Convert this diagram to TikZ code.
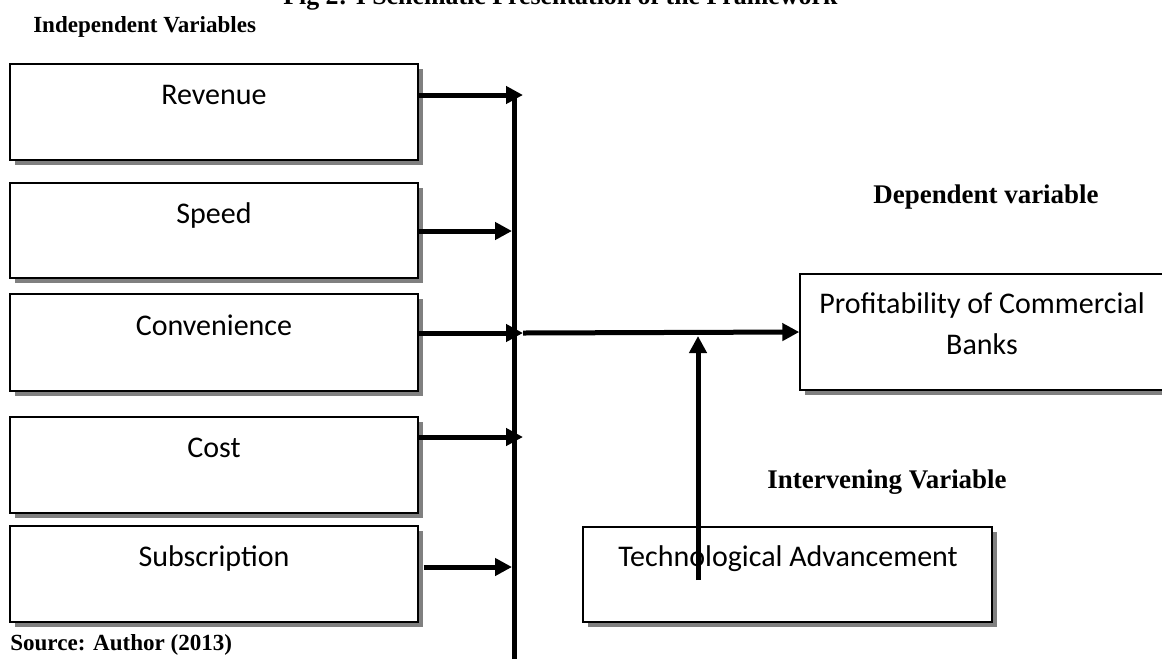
\documentclass[tikz,border=0pt]{standalone}
\usepackage{fontspec}
\setmainfont{Liberation Serif}
\newfontfamily\calfont{Carlito}
\usetikzlibrary{arrows.meta,shadows,calc}
\begin{document}
\begin{tikzpicture}[x=0.75pt,y=-0.75pt,
  varbox/.style={draw=black,line width=1.1pt,fill=white,rectangle,inner sep=0pt,
    drop shadow={shadow xshift=3.75pt,shadow yshift=-3.75pt,fill=black!50,opacity=1}},
  boxtext/.style={font=\calfont\fontsize{22.5pt}{27pt}\selectfont,anchor=base,inner sep=0pt},
  heading/.style={font=\bfseries\fontsize{17.3pt}{20pt}\selectfont,inner sep=0pt},
  bigheading/.style={font=\bfseries\fontsize{20.2pt}{24pt}\selectfont,inner sep=0pt},
  conn/.style={line width=3.75pt,-{Triangle[length=12.75pt,width=12.75pt]}},
  bus/.style={line width=3.75pt}]
\clip (0,0) rectangle (1162,658);
\useasboundingbox (0,0) rectangle (1162,658);
% title (cut off at top)
\node[font=\bfseries\fontsize{19.4pt}{23pt}\selectfont,inner sep=0pt,anchor=base west] (title) at (283,4) {Fig 2: I Schematic Presentation of the Framework};
\node[heading,anchor=base west] (indep) at (33,32) {Independent Variables};
\node[bigheading,anchor=base] (dep) at (986,203) {Dependent variable};
\node[bigheading,anchor=base] (interv) at (887,488) {Intervening Variable};
\node[heading,anchor=base west] (src) at (10,650) {Source: Author (2013)};
% left boxes
\node[varbox,minimum width=306pt,minimum height=72pt] (rev) at (214,112) {};
\node[varbox,minimum width=306pt,minimum height=71pt] (spd) at (214,230.5) {};
\node[varbox,minimum width=306pt,minimum height=72.5pt] (conv) at (214,342.5) {};
\node[varbox,minimum width=306pt,minimum height=72pt] (cost) at (214,465) {};
\node[varbox,minimum width=306pt,minimum height=72pt] (subs) at (214,574) {};
\node[boxtext] (revt) at (214,104) {Revenue};
\node[boxtext] (spdt) at (214,223) {Speed};
\node[boxtext] (convt) at (214,335) {Convenience};
\node[boxtext] (costt) at (214,457) {Cost};
\node[boxtext] (subst) at (214,566) {Subscription};
% right boxes
\node[varbox,minimum width=273.75pt,minimum height=87pt] (prof) at (982.5,332) {};
\node[boxtext] (proft1) at (982,313) {Profitability of Commercial};
\node[boxtext] (proft2) at (982,354) {Banks};
\node[varbox,minimum width=306.75pt,minimum height=71.25pt] (tech) at (787.5,574.5) {};
\node[boxtext] (techt) at (788,566) {Technological Advancement};
% bus coordinates
\coordinate (bustop) at (514,93);
\coordinate (busbot) at (514,665);
\coordinate (b1) at (523,95);
\coordinate (b2) at (512,231);
\coordinate (b3) at (523,333);
\coordinate (b4) at (523,437);
\coordinate (b5) at (512,567);
\coordinate (upstart) at (698,580);
\coordinate (j) at (698,336);
% connectors
\draw[bus] (bustop) -- (busbot);
\draw[conn] (rev.east |- b1) -- (b1);
\draw[conn] (spd.east |- b2) -- (b2);
\draw[conn] (conv.east |- b3) -- (b3);
\draw[conn] (cost.east |- b4) -- (b4);
\draw[conn] ([xshift=3.75pt]subs.east |- b5) -- (b5);
\draw[conn] (b3) -- (prof.west);
\draw[conn] (upstart) -- (j);
\end{tikzpicture}
\end{document}
